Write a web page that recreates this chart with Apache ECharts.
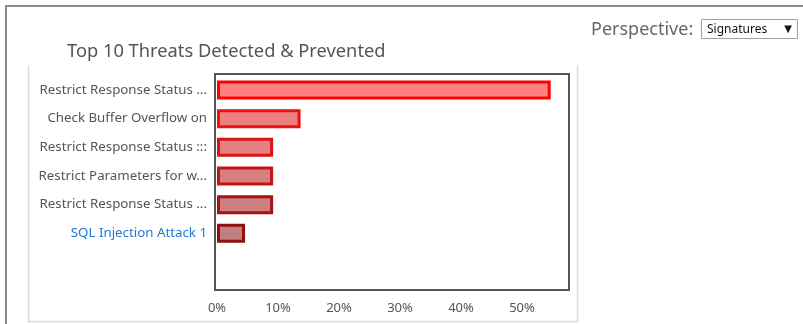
<!DOCTYPE html>
<html>
<head>
<meta charset="utf-8">
<script src="https://cdn.jsdelivr.net/npm/echarts@6/dist/echarts.min.js"></script>
<style>
html,body{margin:0;padding:0;background:#fff;}
#c{width:803px;height:324px;}
</style>
</head>
<body>
<div id="c"></div>
<script>
// ---- data ----
const categories = [
  "Restrict Response Status ...",
  "Check Buffer Overflow on",
  "Restrict Response Status :::",
  "Restrict Parameters for w...",
  "Restrict Response Status ...",
  "SQL Injection Attack 1"
];
const values = [54.7, 13.7, 9.2, 9.2, 9.2, 4.6];
const tickLabels = ["0%", "10%", "20%", "30%", "40%", "50%"];
const fillColors = ["#ff8080", "#f08080", "#e67f7f", "#da7f7f", "#cd7f7f", "#c17f7f"];
const borderColors = ["#ff0000", "#ec1212", "#d81414", "#c21414", "#a81212", "#8e1010"];

const FONT = "'Noto Sans', 'Open Sans', sans-serif";
const chart = echarts.init(document.getElementById('c'), null, {renderer: 'canvas'});

const option = {
  animation: false,
  textStyle: {fontFamily: FONT},
  title: [
    {text: "Top 10 Threats Detected & Prevented", left: 62, top: 38,
     textStyle: {fontSize: 18.3, fontWeight: 'normal', color: '#555', fontFamily: FONT}},
    {text: "Perspective:", left: 586, top: 16,
     textStyle: {fontSize: 18, fontWeight: 'normal', color: '#666', fontFamily: FONT}}
  ],
  grid: [
    {left: 217, top: 75.7, width: 352, height: 172, show: false, containLabel: false},
    {left: 215, top: 74, width: 354, height: 216, show: true, borderColor: '#555', borderWidth: 2, backgroundColor: 'transparent', z: 10}
  ],
  xAxis: [
    {type: 'value', gridIndex: 0, min: 0, max: 57.7, interval: 10, offset: 42,
     axisLine: {show: false}, axisTick: {show: false}, splitLine: {show: false},
     axisLabel: {showMaxLabel: false, margin: 12, color: '#555', fontSize: 13, fontFamily: FONT,
       formatter: (v) => tickLabels[Math.round(v / 10)] || ''}},
    {type: 'value', gridIndex: 1, min: 0, max: 58, show: false}
  ],
  yAxis: [
    {type: 'category', gridIndex: 0, data: categories, inverse: true,
     axisLine: {show: false}, axisTick: {show: false},
     axisLabel: {margin: 10, color: '#555', fontSize: 13.3, fontFamily: FONT,
       formatter: (v, i) => i === categories.length - 1 ? '{link|' + v + '}' : v,
       rich: {link: {color: '#1f78d6', fontSize: 13.3, fontFamily: FONT}}}},
    {type: 'value', gridIndex: 1, show: false}
  ],
  series: [{
    type: 'bar', xAxisIndex: 0, yAxisIndex: 0,
    barWidth: 19,
    data: values.map((v, i) => ({
      value: v,
      itemStyle: {color: fillColors[i], borderColor: borderColors[i], borderWidth: 3}
    }))
  }],
  graphic: [
    {type: 'polyline', shape: {points: [[6, 324], [6, 6], [803, 6]]},
     style: {stroke: '#8a8a8a', lineWidth: 2, fill: null}, silent: true},
    {type: 'polyline', shape: {points: [[28.5, 65], [28.5, 321.5], [577.5, 321.5], [577.5, 65]]},
     style: {stroke: '#dcdcdc', lineWidth: 1.5, fill: null}, silent: true},
    {type: 'rect', shape: {x: 701.5, y: 19.5, width: 96, height: 19},
     style: {stroke: '#a0a0a0', lineWidth: 1, fill: '#fff'}, silent: true},
    {type: 'text', x: 707, y: 29.5,
     style: {text: 'Signatures', fill: '#111', font: '12px ' + FONT, verticalAlign: 'middle'}, silent: true},
    {type: 'text', x: 788, y: 29,
     style: {text: '▼', fill: '#111', font: '10px ' + "'DejaVu Sans'", verticalAlign: 'middle', align: 'center'}, silent: true}
  ]
};
chart.setOption(option);
</script>
</body>
</html>
